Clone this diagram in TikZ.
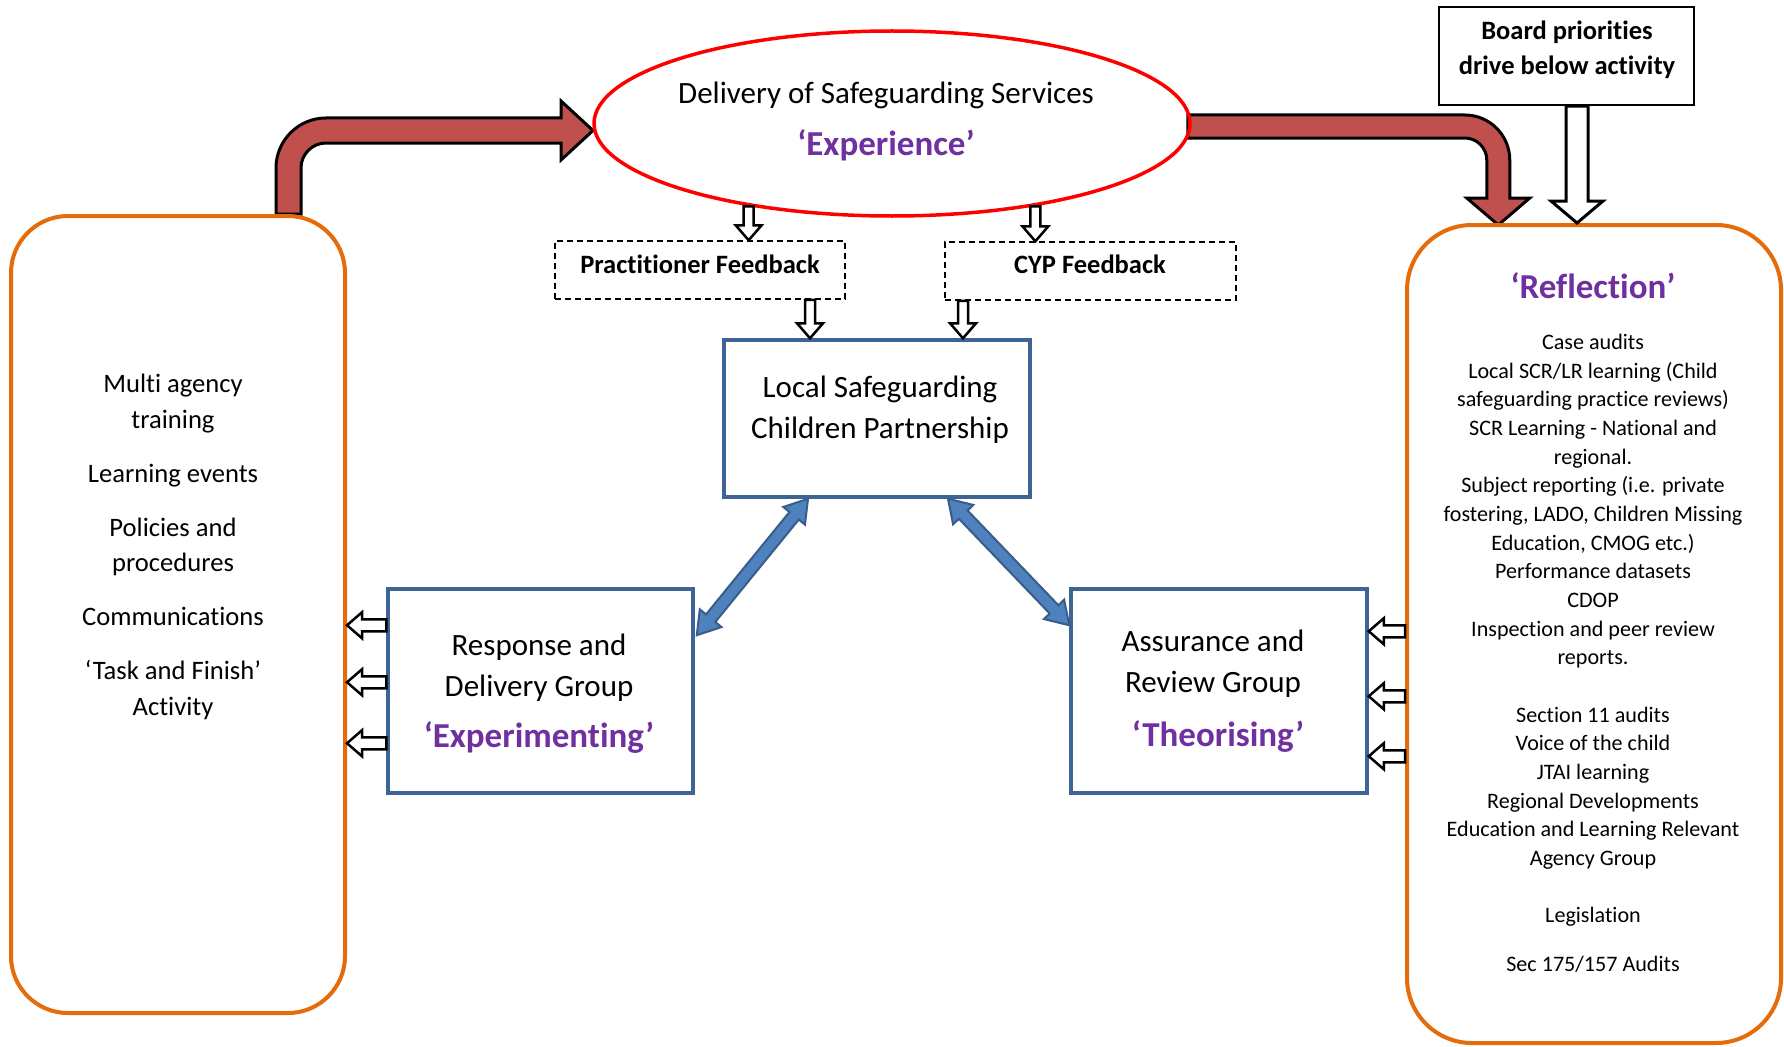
\documentclass[tikz,border=0pt]{standalone}
\usepackage{fontspec}
\setmainfont{Carlito}[Ligatures=NoCommon]
\usetikzlibrary{calc,shapes.geometric}
\pgfdeclarelayer{bg}
\pgfsetlayers{bg,main}
\definecolor{orng}{RGB}{228,108,10}
\definecolor{arrred}{RGB}{192,80,77}
\definecolor{purp}{RGB}{112,48,160}
\definecolor{boxblue}{RGB}{62,100,150}
\definecolor{arrblue}{RGB}{79,129,189}
\definecolor{arrbluedark}{RGB}{56,93,138}
\newcommand\fs[2]{\fontsize{#1}{#2}\selectfont}
% single block arrow: style, tail, tip, half shaft, half head, head length
\newcommand\blockarrow[6]{%
  \draw[#1] ($(#2)!#4!90:(#3)$) -- ($(#3)!#6!(#2)!#4!-90:(#2)$) -- ($(#3)!#6!(#2)!#5!-90:(#2)$) -- (#3)
    -- ($(#3)!#6!(#2)!#5!90:(#2)$) -- ($(#3)!#6!(#2)!#4!90:(#2)$) -- ($(#2)!#4!-90:(#3)$) -- cycle;}
% double block arrow: style, end A, end B, half shaft, half head, head length
\newcommand\dblarrow[6]{%
  \draw[#1] (#2) -- ($(#2)!#6!(#3)!#5!90:(#3)$) -- ($(#2)!#6!(#3)!#4!90:(#3)$)
    -- ($(#3)!#6!(#2)!#4!-90:(#2)$) -- ($(#3)!#6!(#2)!#5!-90:(#2)$) -- (#3)
    -- ($(#3)!#6!(#2)!#5!90:(#2)$) -- ($(#3)!#6!(#2)!#4!90:(#2)$)
    -- ($(#2)!#6!(#3)!#4!-90:(#3)$) -- ($(#2)!#6!(#3)!#5!-90:(#3)$) -- cycle;}
\begin{document}
\begin{tikzpicture}[x=1pt,y=-1pt,
  obox/.style={draw=orng, line width=4pt, inner sep=0pt},
  bbox/.style={draw=boxblue, line width=3.5pt, inner sep=0pt},
  dbox/.style={draw=black, line width=1.5pt, dash pattern=on 6pt off 4pt, inner sep=0pt, minimum height=58pt},
  txt/.style={align=center, inner sep=0pt, text=black},
  ptxt/.style={align=center, inner sep=0pt, text=purp, font=\bfseries\fs{35}{42}},
  redarr/.style={fill=arrred, draw=black, line width=3pt, line join=miter},
  whitearr/.style={fill=white, draw=black, line width=2.5pt, line join=miter},
  bluearr/.style={fill=arrblue, draw=arrbluedark, line width=2pt, line join=miter}]
\begin{pgfonlayer}{bg}
\fill[white] (0,0) rectangle (1784,1046);
\end{pgfonlayer}
\useasboundingbox (0,0) rectangle (1784,1046);

% boxes
\node[obox, rounded corners=57pt, minimum width=334pt, minimum height=797pt] (lb) at (178,614.5) {};
\node[obox, rounded corners=65pt, minimum width=374pt, minimum height=818pt] (rb) at (1594,634) {};
\node[ellipse, draw=red, line width=3.5pt, minimum width=596pt, minimum height=185pt, inner sep=0pt] (ell) at (892,123.5) {};
\node[draw=black, line width=2.5pt, minimum width=255pt, minimum height=98pt, inner sep=0pt] (board) at (1566.5,56) {};
\node[dbox, minimum width=290pt] (pf) at (700,270) {};
\node[dbox, minimum width=291pt] (cyp) at (1090.5,271) {};
\node[bbox, minimum width=306pt, minimum height=157pt] (lscp) at (877,418.5) {};
\node[bbox, minimum width=305pt, minimum height=204pt] (resp) at (540.5,691) {};
\node[bbox, minimum width=296pt, minimum height=204pt] (assur) at (1219,691) {};

% texts
\node[txt, font=\fs{31}{50}] (ellt) at (886,95) {Delivery of Safeguarding Services};
\node[ptxt] (ellp) at (886,145) {‘Experience’};
\node[txt, font=\bfseries\fs{26.5}{35}] (boardt) at (1567,50) {Board priorities\\drive below activity};
\node[txt, font=\bfseries\fs{26.5}{35}] (pft) at (700,264) {Practitioner Feedback};
\node[txt, font=\bfseries\fs{26.5}{35}] (cypt) at (1090,264) {CYP Feedback};
\node[txt, font=\fs{31}{41}] (lscpt) at (880,410) {Local Safeguarding\\Children Partnership};
\node[txt, font=\fs{31}{41}] (respt) at (539,668) {Response and\\Delivery Group};
\node[ptxt] (respp) at (539,738) {‘Experimenting’};
\node[txt, font=\fs{31}{41}] (assurt) at (1213,664) {Assurance and\\Review Group};
\node[ptxt] (assurp) at (1218,737) {‘Theorising’};
\node[txt, font=\fs{26.6}{35.5}] (lbt) at (173,547) {Multi agency\\training\\[18.5pt]Learning events\\[18.5pt]Policies and\\procedures\\[18.5pt]Communications\\[18.5pt]‘Task and Finish’\\Activity};
\node[ptxt] (rbp) at (1593,286) {‘Reflection’};
\node[txt, font=\fs{22.1}{28.65}] (rbt) at (1593,653.5) {Case audits\\Local SCR/LR learning (Child\\safeguarding practice reviews)\\SCR Learning - National and\\regional.\\Subject reporting (i.e. private\\fostering, LADO, Children Missing\\Education, CMOG etc.)\\Performance datasets\\CDOP\\Inspection and peer review\\reports.\\[28.65pt]Section 11 audits\\Voice of the child\\JTAI learning\\Regional Developments\\Education and Learning Relevant\\Agency Group\\[28.65pt]Legislation\\[20.4pt]Sec 175/157 Audits};

% red block arrows (behind the ellipse)
\begin{pgfonlayer}{bg}
\draw[redarr] ([xshift=267pt]lb.north west) -- ++(0,-46) .. controls +(0,-27.6) and +(-27.6,0) .. ++(50,-50)
  -- ++(235,0) -- ++(0,-17) -- ++(32,29.5) -- ++(-32,29.5) -- ++(0,-17) -- ++(-235,0)
  .. controls +(-13.8,0) and +(0,-13.8) .. ++(-25,25) -- ++(0,46) -- cycle;
\draw[redarr] ([xshift=-4pt,yshift=8.5pt]ell.east) -- ++(277,0) .. controls +(24.85,0) and +(0,-24.85) .. ++(45,45)
  -- ++(0,38) -- ++(20,0) -- ++(-31.5,27) -- ++(-31.5,-27) -- ++(20,0) -- ++(0,-38)
  .. controls +(0,-12.15) and +(12.15,0) .. ++(-22,-22) -- ++(-277,0) -- cycle;
\end{pgfonlayer}

% connector end points
\coordinate (e1) at (ell.210);
\coordinate (e1t) at (e1 |- pf.north);
\coordinate (e2) at (ell.330);
\coordinate (e2t) at (e2 |- cyp.north);
\coordinate (f1) at ([xshift=110pt]pf.south);
\coordinate (f1t) at (f1 |- lscp.north);
\coordinate (f2) at ([xshift=-127.5pt]cyp.south);
\coordinate (f2t) at (f2 |- lscp.north);
\coordinate (b1) at ([xshift=10.5pt]board.south);
\coordinate (b1t) at (b1 |- rb.north);
\coordinate (l1) at ($(resp.north west)+(0,38)$);
\coordinate (l2) at ($(resp.north west)+(0,95)$);
\coordinate (l3) at ($(resp.north west)+(0,156)$);
\coordinate (l1t) at (lb.east |- l1);
\coordinate (l2t) at (lb.east |- l2);
\coordinate (l3t) at (lb.east |- l3);
\coordinate (r1t) at ($(assur.north east)+(0,44)$);
\coordinate (r2t) at ($(assur.north east)+(0,109)$);
\coordinate (r3t) at ($(assur.north east)+(0,169)$);
\coordinate (r1) at (rb.west |- r1t);
\coordinate (r2) at (rb.west |- r2t);
\coordinate (r3) at (rb.west |- r3t);
\coordinate (bl1) at ([xshift=-69pt]lscp.south);
\coordinate (bl2) at ($(resp.north east)+(2,48)$);
\coordinate (br1) at ([xshift=71pt]lscp.south);
\coordinate (br2) at ($(assur.north west)+(0,38)$);

% white block arrows
\blockarrow{whitearr}{e1}{e1t}{5pt}{13pt}{15pt}
\blockarrow{whitearr}{e2}{e2t}{5pt}{13pt}{15pt}
\blockarrow{whitearr}{f1}{f1t}{5pt}{13pt}{15pt}
\blockarrow{whitearr}{f2}{f2t}{5pt}{13pt}{15pt}
\blockarrow{whitearr, line width=3pt}{b1}{b1t}{11pt}{26pt}{22pt}
\blockarrow{whitearr}{l1}{l1t}{6pt}{13pt}{15pt}
\blockarrow{whitearr}{l2}{l2t}{6pt}{13pt}{15pt}
\blockarrow{whitearr}{l3}{l3t}{6pt}{13pt}{15pt}
\blockarrow{whitearr}{r1}{r1t}{6pt}{13pt}{15pt}
\blockarrow{whitearr}{r2}{r2t}{6pt}{13pt}{15pt}
\blockarrow{whitearr}{r3}{r3t}{6pt}{13pt}{15pt}

% blue double arrows
\dblarrow{bluearr}{bl1}{bl2}{6pt}{14pt}{22pt}
\dblarrow{bluearr}{br1}{br2}{6pt}{14pt}{22pt}
\end{tikzpicture}
\end{document}
